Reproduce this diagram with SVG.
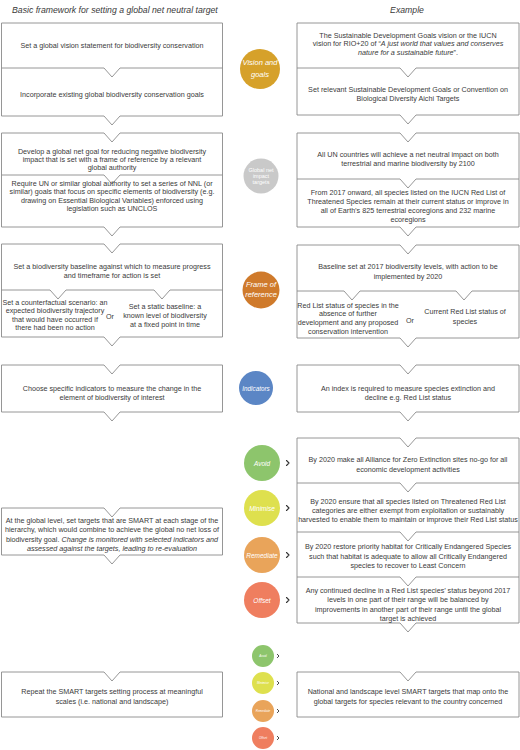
<svg xmlns="http://www.w3.org/2000/svg" width="520" height="750" viewBox="0 0 520 750">
<style>
  text { font-family: "Liberation Sans", Arial, sans-serif; fill: #3a3a3a; }
  .t { font-size: 7.2px; text-anchor: middle; }
  .hd { font-size: 8.7px; font-style: italic; }
  .it { font-style: italic; }
  .box { fill: #ffffff; stroke: #8a8a8a; stroke-width: 0.9; }
  .div { fill: none; stroke: #8a8a8a; stroke-width: 0.9; }
  .ct { font-style: italic; text-anchor: middle; fill: #ffffff; }
  .chev { fill: none; stroke: #333333; stroke-width: 1.1; stroke-linecap: round; stroke-linejoin: round; }
</style>
<rect width="520" height="750" fill="#ffffff"/>

<text class="hd" x="12" y="13">Basic framework for setting a global net neutral target</text>
<text class="hd" x="407" y="13" text-anchor="middle">Example</text>

<!-- LEFT COLUMN -->
<g id="left-vision">
  <path class="box" d="M1.5,23 H222.5 V116 H120 L112,125 L104,116 H1.5 Z"/>
  <path class="div" d="M1.5,68 H104 L112,77 L120,68 H222.5"/>
  <text class="t" x="112" y="47.5">Set a global vision statement for biodiversity conservation</text>
  <text class="t" x="112" y="96.5">Incorporate existing global biodiversity conservation goals</text>
</g>
<g id="left-global">
  <path class="box" d="M1.5,133 H104 L112,142 L120,133 H222.5 V227 H120 L112,236 L104,227 H1.5 Z"/>
  <path class="div" d="M1.5,175 H104 L112,184 L120,175 H222.5"/>
  <text class="t" x="112" y="153.5">Develop a global net goal for reducing negative biodiversity</text>
  <text class="t" x="112" y="161.8">impact that is set with a frame of reference by a relevant</text>
  <text class="t" x="112" y="170">global authority</text>
  <text class="t" x="112" y="186">Require UN or similar global authority to set a series of NNL (or</text>
  <text class="t" x="112" y="194.3">similar) goals that focus on specific elements of biodiversity (e.g.</text>
  <text class="t" x="112" y="202.6">drawing on Essential Biological Variables) enforced using</text>
  <text class="t" x="112" y="211">legislation such as UNCLOS</text>
</g>
<g id="left-frame">
  <path class="box" d="M1.5,244 H104 L112,253 L120,244 H222.5 V337 H120 L112,346 L104,337 H1.5 Z"/>
  <path class="div" d="M1.5,290 H50 L58,299 L66,290 H154 L162,299 L170,290 H222.5"/>
  <text class="t" x="112" y="269">Set a biodiversity baseline against which to measure progress</text>
  <text class="t" x="112" y="277.5">and timeframe for action is set</text>
  <text class="t" x="55" y="305">Set a counterfactual scenario: an</text>
  <text class="t" x="55" y="313.4">expected biodiversity trajectory</text>
  <text class="t" x="55" y="321.8">that would have occurred if</text>
  <text class="t" x="55" y="330.2">there had been no action</text>
  <text class="t" x="110" y="318.5">Or</text>
  <text class="t" x="165" y="309">Set a static baseline: a</text>
  <text class="t" x="165" y="318">known level of biodiversity</text>
  <text class="t" x="165" y="327">at a fixed point in time</text>
</g>
<g id="left-indicators">
  <path class="box" d="M1.5,365 H104 L112,374 L120,365 H222.5 V412 H120 L112,421 L104,412 H1.5 Z"/>
  <text class="t" x="112" y="391">Choose specific indicators to measure the change in the</text>
  <text class="t" x="112" y="400">element of biodiversity of interest</text>
</g>
<g id="left-smart">
  <path class="box" d="M1.5,508 H104 L112,517 L120,508 H222.5 V555 H120 L112,564 L104,555 H1.5 Z"/>
  <text class="t" x="112" y="523">At the global level, set targets that are SMART at each stage of the</text>
  <text class="t" x="112" y="532.3">hierarchy, which would combine to achieve the global no net loss of</text>
  <text class="t" x="112" y="541.6">biodiversity goal. <tspan class="it">Change is monitored with selected indicators and</tspan></text>
  <text class="t it" x="112" y="550.9">assessed against the targets, leading to re-evaluation</text>
</g>
<g id="left-repeat">
  <path class="box" d="M1.5,672 H104 L112,681 L120,672 H222.5 V717 H1.5 Z"/>
  <text class="t" x="112" y="694">Repeat the SMART targets setting process at meaningful</text>
  <text class="t" x="112" y="704">scales (i.e. national and landscape)</text>
</g>

<!-- RIGHT COLUMN -->
<g id="right-vision">
  <path class="box" d="M297,23 H519 V115 H416 L408,124 L400,115 H297 Z"/>
  <path class="div" d="M297,68 H400 L408,77 L416,68 H519"/>
  <text class="t" x="408" y="37.5">The Sustainable Development Goals vision or the IUCN</text>
  <text class="t" x="408" y="46.3">vision for RIO+20 of “<tspan class="it">A just world that values and conserves</tspan></text>
  <text class="t" x="408" y="55.1"><tspan class="it">nature for a sustainable future</tspan>”.</text>
  <text class="t" x="408" y="91.5">Set relevant Sustainable Development Goals or Convention on</text>
  <text class="t" x="408" y="100.5">Biological Diversity Aichi Targets</text>
</g>
<g id="right-global">
  <path class="box" d="M297,133 H400 L408,142 L416,133 H519 V227 H416 L408,236 L400,227 H297 Z"/>
  <path class="div" d="M297,179 H400 L408,188 L416,179 H519"/>
  <text class="t" x="408" y="157">All UN countries will achieve a net neutral impact on both</text>
  <text class="t" x="408" y="166">terrestrial and marine biodiversity by 2100</text>
  <text class="t" x="408" y="195">From 2017 onward, all species listed on the IUCN Red List of</text>
  <text class="t" x="408" y="204">Threatened Species remain at their current status or improve in</text>
  <text class="t" x="408" y="213">all of Earth’s 825 terrestrial ecoregions and 232 marine</text>
  <text class="t" x="408" y="222">ecoregions</text>
</g>
<g id="right-frame">
  <path class="box" d="M297,245 H400 L408,254 L416,245 H519 V338 H416 L408,347 L400,338 H297 Z"/>
  <path class="div" d="M297,291 H344 L352,300 L360,291 H456 L464,300 L472,291 H519"/>
  <text class="t" x="408" y="269">Baseline set at 2017 biodiversity levels, with action to be</text>
  <text class="t" x="408" y="278.5">implemented by 2020</text>
  <text class="t" x="348" y="307.5">Red List status of species in the</text>
  <text class="t" x="348" y="316.3">absence of further</text>
  <text class="t" x="348" y="325.1">development and any proposed</text>
  <text class="t" x="348" y="333.9">conservation intervention</text>
  <text class="t" x="410" y="322.5">Or</text>
  <text class="t" x="465" y="314">Current Red List status of</text>
  <text class="t" x="465" y="323.5">species</text>
</g>
<g id="right-indicators">
  <path class="box" d="M297,365 H400 L408,374 L416,365 H519 V412 H416 L408,421 L400,412 H297 Z"/>
  <text class="t" x="408" y="391">An index is required to measure species extinction and</text>
  <text class="t" x="408" y="400">decline e.g. Red List status</text>
</g>
<g id="right-smart">
  <path class="box" d="M297,438 H400 L408,447 L416,438 H519 V623 H416 L408,632 L400,623 H297 Z"/>
  <path class="div" d="M297,483 H400 L408,492 L416,483 H519"/>
  <path class="div" d="M297,532 H400 L408,541 L416,532 H519"/>
  <path class="div" d="M297,577 H400 L408,586 L416,577 H519"/>
  <text class="t" x="408" y="462">By 2020 make all Alliance for Zero Extinction sites no-go for all</text>
  <text class="t" x="408" y="472">economic development activities</text>
  <text class="t" x="408" y="503.5">By 2020 ensure that all species listed on Threatened Red List</text>
  <text class="t" x="408" y="512.5">categories are either exempt from exploitation or sustainably</text>
  <text class="t" x="408" y="521.5">harvested to enable them to maintain or improve their Red List status</text>
  <text class="t" x="408" y="549">By 2020 restore priority habitat for Critically Endangered Species</text>
  <text class="t" x="408" y="558.7">such that habitat is adequate to allow all Critically Endangered</text>
  <text class="t" x="408" y="568.4">species to recover to Least Concern</text>
  <text class="t" x="408" y="593">Any continued decline in a Red List species’ status beyond 2017</text>
  <text class="t" x="408" y="602.3">levels in one part of their range will be balanced by</text>
  <text class="t" x="408" y="611.6">improvements in another part of their range until the global</text>
  <text class="t" x="408" y="620.9">target is achieved</text>
</g>
<g id="right-national">
  <path class="box" d="M297,672 H400 L408,681 L416,672 H519 V717 H297 Z"/>
  <text class="t" x="408" y="694">National and landscape level SMART targets that map onto the</text>
  <text class="t" x="408" y="704">global targets for species relevant to the country concerned</text>
</g>

<!-- CENTRE CIRCLES -->
<g id="c-vision">
  <circle cx="260" cy="69" r="20" fill="#D6A12A"/>
  <text class="ct" x="260" y="65" font-size="7.5">Vision and</text>
  <text class="ct" x="260" y="76.5" font-size="7.5">goals</text>
</g>
<g id="c-global">
  <circle cx="261" cy="176" r="17.5" fill="#C9C9C9"/>
  <text class="ct" x="261" y="172" font-size="5.5" fill="#ececec" style="font-style:normal">Global net</text>
  <text class="ct" x="261" y="178" font-size="5.5" fill="#ececec" style="font-style:normal">impact</text>
  <text class="ct" x="261" y="184" font-size="5.5" fill="#ececec" style="font-style:normal">targets</text>
</g>
<g id="c-frame">
  <circle cx="261" cy="290" r="18.5" fill="#CF7A2B"/>
  <text class="ct" x="261" y="287" font-size="7.5">Frame of</text>
  <text class="ct" x="261" y="297" font-size="7.5">reference</text>
</g>
<g id="c-indicators">
  <circle cx="256" cy="388" r="17" fill="#5B86C5"/>
  <text class="ct" x="256" y="390.5" font-size="6.3">Indicators</text>
</g>
<g id="c-avoid">
  <circle cx="262" cy="463" r="18" fill="#8DC56C"/>
  <text class="ct" x="262" y="465.5" font-size="6.5">Avoid</text>
</g>
<g id="c-minimise">
  <circle cx="262" cy="508" r="18" fill="#DEE04E"/>
  <text class="ct" x="262" y="510.5" font-size="6.5" fill="#f4f3b8">Minimise</text>
</g>
<g id="c-remediate">
  <circle cx="262" cy="555" r="18" fill="#E9A45A"/>
  <text class="ct" x="262" y="557.5" font-size="6.5">Remediate</text>
</g>
<g id="c-offset">
  <circle cx="262" cy="600" r="18" fill="#EF7E5F"/>
  <text class="ct" x="262" y="602.5" font-size="6.5">Offset</text>
</g>
<g id="c-avoid-small">
  <circle cx="263" cy="656" r="11" fill="#8DC56C"/>
  <text class="ct" x="263" y="657" font-size="3">Avoid</text>
</g>
<g id="c-minimise-small">
  <circle cx="263" cy="683" r="11" fill="#DEE04E"/>
  <text class="ct" x="263" y="684" font-size="3" fill="#f4f3b8">Minimise</text>
</g>
<g id="c-remediate-small">
  <circle cx="263" cy="711" r="11" fill="#E9A45A"/>
  <text class="ct" x="263" y="712" font-size="3">Remediate</text>
</g>
<g id="c-offset-small">
  <circle cx="263" cy="738" r="11" fill="#EF7E5F"/>
  <text class="ct" x="263" y="739" font-size="3">Offset</text>
</g>

<!-- CONNECTORS (chevrons from circles to targets) -->
<g id="connectors">
  <polyline class="chev" points="286.5,460.5 289,463 286.5,465.5"/>
  <polyline class="chev" points="286.5,505.5 289,508 286.5,510.5"/>
  <polyline class="chev" points="286.5,552.5 289,555 286.5,557.5"/>
  <polyline class="chev" points="286.5,597.5 289,600 286.5,602.5"/>
  <polyline class="chev" points="277.3,654.3 279,656 277.3,657.7" style="stroke-width:0.9"/>
  <polyline class="chev" points="277.3,681.3 279,683 277.3,684.7" style="stroke-width:0.9"/>
  <polyline class="chev" points="277.3,709.3 279,711 277.3,712.7" style="stroke-width:0.9"/>
  <polyline class="chev" points="277.3,736.3 279,738 277.3,739.7" style="stroke-width:0.9"/>
</g>
</svg>
